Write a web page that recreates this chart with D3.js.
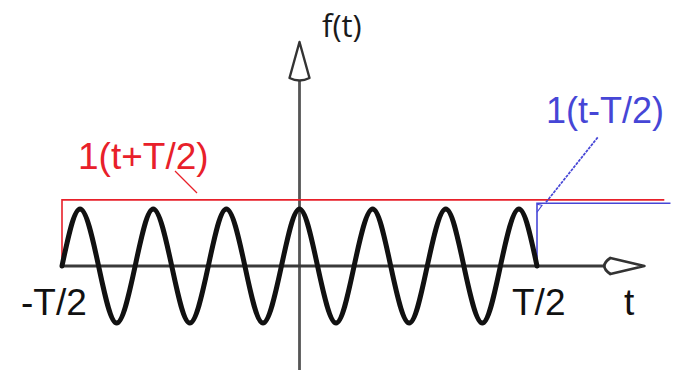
<!DOCTYPE html>
<html>
<head>
<meta charset="utf-8">
<script src="https://cdn.jsdelivr.net/npm/d3@7"></script>
<style>
  body { margin: 0; background: #fff; }
  svg { display: block; }
  text { font-family: "Liberation Sans", Arial, sans-serif; }
</style>
</head>
<body>
<svg></svg>
<script>
let width = 677;
let height = 370;

// wave: t in units of T, f(t) amplitude (1 = peak)
let waveT = [-0.5, -0.462, -0.423, -0.385, -0.346, -0.308, -0.269, -0.231, -0.192, -0.154, -0.115, -0.077, -0.038,
  0, 0.038, 0.077, 0.115, 0.154, 0.192, 0.231, 0.269, 0.308, 0.346, 0.385, 0.423, 0.462, 0.5];
let waveF = [0, 1, 0, -1, 0, 1, 0, -1, 0, 1, 0, -1, 0,
  1, 0, -1, 0, 1, 0, -1, 0, 1, 0, -1, 0, 1, 0];

// unit steps: start t, level, end t
let redStep = [-0.5, 1.16, 0.768];
let blueStep = [0.5, 1.1, 0.781];

// axes extent
let tAxis = [-0.5, 0.726];
let fAxis = [-1.85, 3.93];

let tickLabels = ['-T/2', 'T/2', 't'];

let svg = d3.select('svg').attr('width', width).attr('height', height);

let xScale = d3.scaleLinear().domain([-0.5, 0.5]).range([62, 537]);
let yScale = d3.scaleLinear().domain([-1, 1]).range([323, 209]);

let x0 = xScale(0);
let y0 = yScale(0);

// vertical axis
svg.append('line').
attr('x1', x0).attr('x2', x0).
attr('y1', yScale(fAxis[0])).attr('y2', yScale(fAxis[1]) + 30).
attr('stroke', '#555').attr('stroke-width', 2.8);

let vTip = yScale(fAxis[1]);
svg.append('path').
attr('d', 'M' + x0 + ',' + vTip + ' L' + (x0 + 10) + ',' + (vTip + 36) +
  ' Q' + x0 + ',' + (vTip + 41) + ' ' + (x0 - 10) + ',' + (vTip + 36) + ' Z').
attr('fill', '#fff').attr('stroke', '#333').attr('stroke-width', 2.4).attr('stroke-linejoin', 'round');

// horizontal axis
let hTip = xScale(tAxis[1]);
svg.append('line').
attr('x1', xScale(tAxis[0])).attr('x2', hTip - 40).
attr('y1', y0).attr('y2', y0).
attr('stroke', '#3a3a3a').attr('stroke-width', 2.8);

svg.append('path').
attr('d', 'M' + hTip + ',' + y0 + ' L' + (hTip - 34) + ',' + (y0 - 8) +
  ' Q' + (hTip - 46) + ',' + y0 + ' ' + (hTip - 34) + ',' + (y0 + 8) + ' Z').
attr('fill', '#fff').attr('stroke', '#333').attr('stroke-width', 2.8).attr('stroke-linejoin', 'round');

// red step 1(t+T/2)
svg.append('path').
attr('d', d3.line()([
  [xScale(redStep[0]), y0],
  [xScale(redStep[0]), yScale(redStep[1])],
  [xScale(redStep[2]), yScale(redStep[1])]])).
attr('fill', 'none').attr('stroke', '#e8202a').attr('stroke-width', 1.6);

// blue step 1(t-T/2)
svg.append('path').
attr('d', d3.line()([
  [xScale(blueStep[0]), y0],
  [xScale(blueStep[0]), yScale(blueStep[1])],
  [xScale(blueStep[2]), yScale(blueStep[1])]])).
attr('fill', 'none').attr('stroke', '#4646d6').attr('stroke-width', 1.6);

// the wave
let wave = waveT.map((t, i) => [t, waveF[i]]);
svg.append('path').
datum(wave).
attr('d', d3.line().
x(d => xScale(d[0])).
y(d => yScale(d[1])).
curve(d3.curveNatural)).
attr('fill', 'none').attr('stroke', '#111').attr('stroke-width', 5).attr('stroke-linecap', 'round');

// leaders
svg.append('line').
attr('x1', 175).attr('y1', 171).attr('x2', 197).attr('y2', 193).
attr('stroke', '#e8202a').attr('stroke-width', 1.3);

let bx = xScale(blueStep[0]);
let by = yScale(blueStep[1]);
svg.append('line').
attr('x1', bx + 9).attr('y1', by - 1).attr('x2', 598).attr('y2', 137).
attr('stroke', '#4646d6').attr('stroke-width', 1.7).attr('stroke-dasharray', '3,1');
svg.append('path').
attr('d', 'M' + bx + ',' + (by + 9) + ' L' + (bx + 5) + ',' + (by + 2) + ' L' + bx + ',' + (by + 1)).
attr('fill', 'none').attr('stroke', '#4646d6').attr('stroke-width', 1.1);

// labels
svg.append('text').
attr('x', 78).attr('y', 169).
attr('font-size', 37).attr('fill', '#e8202a').
text('1(t+T/2)');

svg.append('text').
attr('x', 546).attr('y', 123).
attr('font-size', 36).attr('fill', '#4646d6').
text('1(t-T/2)');

svg.append('text').
attr('x', 322).attr('y', 37).
attr('font-size', 31).attr('font-weight', 500).attr('fill', '#1a1a1a').
style('font-family', '"Open Sans", sans-serif').
text('f(t)');

let labelPos = [[21, 315], [512, 315], [624, 315]];
svg.selectAll('.tick-label').
data(tickLabels).
enter().
append('text').
attr('class', 'tick-label').
attr('x', (d, i) => labelPos[i][0]).
attr('y', (d, i) => labelPos[i][1]).
attr('font-size', 37).attr('fill', '#111').
text(d => d);
</script>
</body>
</html>
